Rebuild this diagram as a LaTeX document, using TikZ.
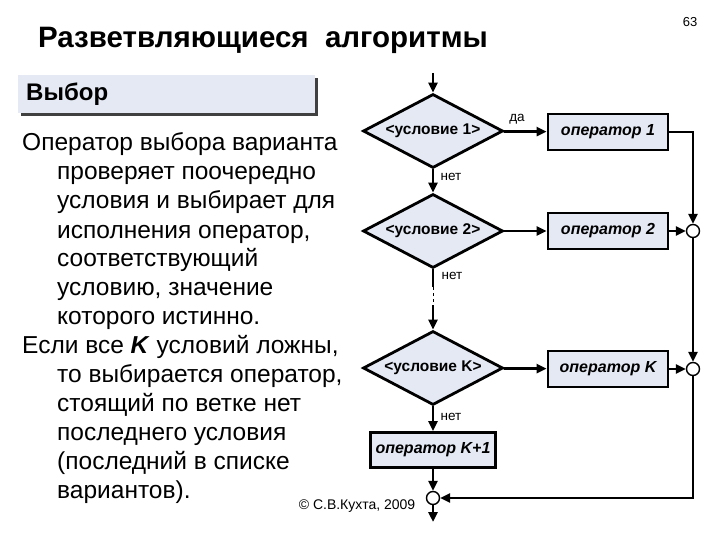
\documentclass[tikz,border=0pt]{standalone}
\usepackage{fontspec}
\setmainfont{Liberation Sans}
\usetikzlibrary{shapes.geometric,arrows.meta}
\definecolor{fl}{HTML}{E4E9F4}
\begin{document}
\begin{tikzpicture}[x=1pt,y=-1pt,
 cond/.style={diamond,draw,line width=2.8pt,fill=fl,aspect=1.9,minimum width=140pt,minimum height=74pt,inner sep=0pt,font=\fontsize{15.5}{18}\selectfont\bfseries},
 op/.style={draw,line width=2.8pt,fill=fl,minimum width=120pt,minimum height=36pt,inner sep=0pt,font=\fontsize{16}{18}\selectfont\bfseries\itshape},
 jn/.style={circle,draw,line width=1.4pt,fill=white,minimum size=13pt,inner sep=0pt},
 ar/.style={line width=2.8pt,-{Triangle[length=10pt,width=9pt]}},
 ln/.style={line width=2.8pt},
 lab/.style={font=\fontsize{13.5}{16}\selectfont},
 tx/.style={anchor=base west,inner sep=0pt,font=\fontsize{24.5}{28}\selectfont}]
\useasboundingbox (0,0) rectangle (720,540);
\node at (690,22) {\fontsize{13}{15}\selectfont 63};
\node[anchor=west,inner sep=0pt] at (38,40) {\fontsize{29.5}{34}\selectfont\bfseries Разветвляющиеся\ \ алгоритмы};
\fill[black!75] (21,78) rectangle (318,116);
\fill[fl] (18,75) rectangle (315,113);
\node[anchor=west,inner sep=0pt] at (26,94) {\fontsize{24}{28}\selectfont\bfseries Выбор};
\node[tx] (t1) at (22,151) {Оператор выбора варианта};
\node[tx] (t2) at (57,180) {проверяет поочередно};
\node[tx] (t3) at (57,209) {условия и выбирает для};
\node[tx] (t4) at (57,238) {исполнения оператор,};
\node[tx] (t5) at (57,266) {соответствующий};
\node[tx] (t6) at (57,295) {условию, значение};
\node[tx] (t7) at (57,324) {которого истинно.};
\node[tx] (t8) at (22,353) {Если все \textbf{\textit{K}} условий ложны,};
\node[tx] (t9) at (57,382) {то выбирается оператор,};
\node[tx] (t10) at (57,411) {стоящий по ветке нет};
\node[tx] (t11) at (57,440) {последнего условия};
\node[tx] (t12) at (57,469) {(последний в списке};
\node[tx] (t13) at (57,498) {вариантов).};
\node[cond] (c1) at (433,131) {<условие 1>};
\node[cond] (c2) at (433,231) {<условие 2>};
\node[cond] (ck) at (433,368) {<условие K>};
\node[op] (o1) at (608,132) {оператор 1};
\node[op] (o2) at (608,231) {оператор 2};
\node[op] (ok) at (608,369) {оператор K};
\node[op,minimum width=125pt,minimum height=35pt] (ok1) at (433,450) {оператор K+1};
\node[jn] (j2) at (693,231) {};
\node[jn] (jk) at (693,369) {};
\node[jn] (jb) at (433,498) {};
\coordinate (top) at (433,73);
\coordinate (bot) at (433,522);
\coordinate (d1) at (433,287);
\coordinate (d2) at (433,305);
\coordinate (r1) at (693,132);
\coordinate (r2) at (693,498);
\draw[ar] (top) -- (c1);
\draw[ar] (c1) -- (o1);
\draw[ar] (c2) -- (o2);
\draw[ar] (ck) -- (ok);
\draw[ar] (c1) -- (c2);
\draw[ln] (c2.south) -- (d1);
\draw[line width=0.8pt,dashed] (d1) -- (d2);
\draw[ar] (d2) -- (ck);
\draw[ar] (ck) -- (ok1);
\draw[ar] (ok1) -- (jb);
\draw[ar] (jb) -- (bot);
\draw[ar] (o2) -- (j2);
\draw[ar] (ok) -- (jk);
\draw[ar] (o1.east) -- (r1) -- (j2);
\draw[ar] (j2) -- (jk);
\draw[ar] (jk) -- (r2) -- (jb);
\node[lab] at (517,119) {да};
\node[lab] at (451,177) {нет};
\node[lab] at (452,276) {нет};
\node[lab] at (451,417) {нет};
\node at (357,506) {\fontsize{14}{16}\selectfont © С.В.Кухта, 2009};
\end{tikzpicture}
\end{document}
